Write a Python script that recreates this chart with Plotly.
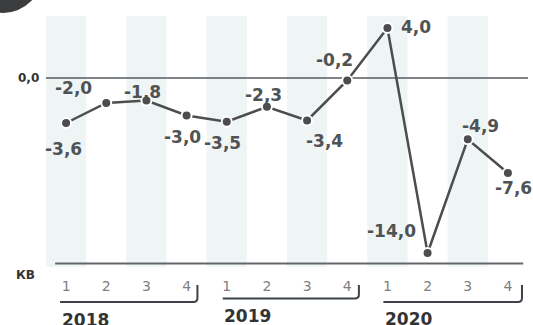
import plotly.graph_objects as go

# ---- data ----
quarters = ["1", "2", "3", "4", "1", "2", "3", "4", "1", "2", "3", "4"]
years = ["2018", "2019", "2020"]
values = [-3.6, -2.0, -1.8, -3.0, -3.5, -2.3, -3.4, -0.2, 4.0, -14.0, -4.9, -7.6]
axis_label = "КВ"
zero_label = "0,0"

# ---- label offsets (pixels) ----
label_dx = [-3, -33, -4, -4, -4, -3, 17, -13, 29, -36, 13, 6]
label_dy = [-26, 15, 9, -21, -21, 12, -20, 21, 1, 22, 13, -15]

idx = list(range(len(values)))
DARK = "#4b4d4f"
FONT = "DejaVu Sans"

fig = go.Figure()

fig.add_trace(go.Scatter(
    x=idx, y=values, mode="lines+markers",
    line=dict(color=DARK, width=2.5),
    marker=dict(size=10, color=DARK, line=dict(color="white", width=2)),
    hoverinfo="skip", showlegend=False,
))

shapes = []
# alternating light bands
for i in idx:
    if i % 2 == 0:
        shapes.append(dict(type="rect", xref="x", yref="paper",
                           x0=i - 0.5, x1=i + 0.5, y0=0, y1=1,
                           fillcolor="#eff4f5", line=dict(width=0), layer="below"))
# zero line
shapes.append(dict(type="line", xref="paper", yref="y", x0=0, x1=1.0, y0=0, y1=0,
                   line=dict(color="#555b60", width=1.5), layer="below"))
# bottom baseline
shapes.append(dict(type="line", xref="paper", yref="paper", x0=0.019, x1=0.99,
                   y0=0.014, y1=0.014, line=dict(color="#62676b", width=2), layer="below"))
# dark circle top-left
shapes.append(dict(type="circle", xref="paper", yref="paper",
                   x0=-0.17, x1=-0.008, y0=1.012, y1=1.3227,
                   fillcolor="#3b3c3d", line=dict(width=0)))

# year brackets
brackets = [(-0.15, 3.27, -0.139), (3.9, 7.29, -0.125), (7.9, 11.35, -0.139)]
hook_top = -0.072
for (xs, xe, yl) in brackets:
    r = 0.08
    path = (f"M {xs},{yl} L {xe - r},{yl} Q {xe},{yl} {xe},{yl + 0.015} "
            f"L {xe},{hook_top}")
    shapes.append(dict(type="path", xref="x", yref="paper", path=path,
                       line=dict(color="#3c4247", width=2)))

annotations = []
for i, v in enumerate(values):
    annotations.append(dict(
        x=i, y=v, xref="x", yref="y",
        text=f"{v:.1f}".replace(".", ","),
        showarrow=False, xshift=label_dx[i], yshift=label_dy[i],
        font=dict(family=FONT, size=17, color="#505355", weight="bold"),
    ))

annotations.append(dict(x=0, y=0, xref="paper", yref="y", xanchor="right",
                        xshift=-5, text=zero_label, showarrow=False,
                        font=dict(family=FONT, size=12, color="#333", weight="bold")))
annotations.append(dict(x=0, y=-0.0677, xref="paper", yref="paper", xanchor="right",
                        xshift=-9, text=axis_label, showarrow=False,
                        font=dict(family=FONT, size=12, color="#333", weight="bold")))

year_x = [-0.15, 3.88, 7.89]
year_y = [-0.21, -0.196, -0.206]
for yr, xx, yy in zip(years, year_x, year_y):
    annotations.append(dict(x=xx, y=yy, xref="x", yref="paper", xanchor="left",
                            yanchor="middle", text=yr, showarrow=False,
                            font=dict(family=FONT, size=17, color="#333", weight="bold")))

fig.update_layout(
    width=533, height=325,
    margin=dict(l=46, r=5, t=16, b=58),
    paper_bgcolor="white", plot_bgcolor="white",
    shapes=shapes, annotations=annotations,
    xaxis=dict(range=[-0.5, 11.5], tickmode="array", tickvals=idx, ticktext=quarters,
               showgrid=False, zeroline=False, showline=False,
               ticks="outside", ticklen=6, tickcolor="rgba(0,0,0,0)",
               tickfont=dict(family=FONT, size=14, color="#808080"), fixedrange=True),
    yaxis=dict(range=[-15.12, 4.96], showgrid=False, zeroline=False, showline=False,
               showticklabels=False, fixedrange=True),
)

fig.write_html("out.html", config={"displayModeBar": False},
               post_script="document.body.style.margin='0px';")
